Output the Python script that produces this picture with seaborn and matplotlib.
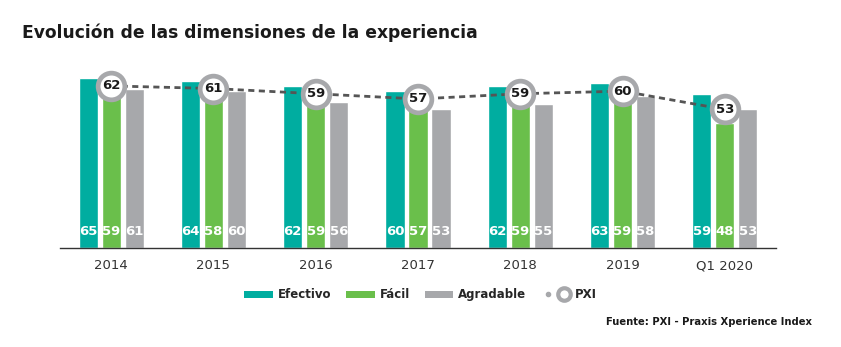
import matplotlib
matplotlib.use("Agg")
import matplotlib.pyplot as plt
from matplotlib.patches import Patch
from matplotlib.lines import Line2D
from matplotlib.legend_handler import HandlerTuple
import seaborn as sns
import pandas as pd

periods = ["2014", "2015", "2016", "2017", "2018", "2019", "Q1 2020"]
efectivo = [65, 64, 62, 60, 62, 63, 59]
facil = [59, 58, 59, 57, 59, 59, 48]
agradable = [61, 60, 56, 53, 55, 58, 53]
pxi = [62, 61, 59, 57, 59, 60, 53]

dimensions = ["Efectivo", "Fácil", "Agradable"]
colors = ["#00ada0", "#6abf4b", "#a7a8ab"]

df = pd.DataFrame({
    "periodo": periods * 3,
    "dimension": [d for d in dimensions for _ in periods],
    "valor": efectivo + facil + agradable,
})

sns.set_theme(style="white")
plt.rcParams["font.family"] = ["DejaVu Sans"]

fig = plt.figure(figsize=(8.41, 3.47), dpi=100)
ax = fig.add_axes([0.0713, 0.2853, 0.8514, 0.5274])

sns.barplot(data=df, x="periodo", y="valor", hue="dimension",
            hue_order=dimensions, palette=colors, width=0.675, gap=0.17,
            saturation=1, ax=ax, legend=False, errorbar=None)

# value labels at the foot of each bar
for container in ax.containers:
    for bar in container:
        h = bar.get_height()
        ax.text(bar.get_x() + bar.get_width() / 2, 6.5, f"{h:.0f}",
                ha="center", va="center", color="white",
                fontsize=9.5, fontweight="bold")

# PXI index: dashed trend with ringed markers
xs = list(range(len(periods)))
ax.plot(xs, pxi, linestyle=(0, (2.2, 1.6)), color="#555555", lw=2, zorder=4)
ax.scatter(xs, pxi, s=370, facecolor="white", edgecolor="#a7a8ab",
           linewidth=3.4, zorder=5)
for x, v in zip(xs, pxi):
    ax.text(x, v, f"{v}", ha="center", va="center", fontsize=9.5,
            fontweight="bold", color="#1a1a1a", zorder=6)

ax.set_xlim(-0.5, 6.5)
ax.set_ylim(0, 70)
ax.set_xlabel("")
ax.set_ylabel("")
ax.set_yticks([])
for s in ["left", "right", "top"]:
    ax.spines[s].set_visible(False)
ax.spines["bottom"].set_color("#333333")
ax.spines["bottom"].set_linewidth(1)
ax.tick_params(axis="x", length=0, pad=8, labelsize=9.5, colors="#333333")

fig.text(0.026, 0.905, "Evolución de las dimensiones de la experiencia",
         fontsize=12.3, fontweight="bold", color="#1a1a1a", va="center")

handles = [Patch(facecolor=c, edgecolor="none") for c in colors]
pxi_handle = (Line2D([], [], marker="o", markersize=3, color="#a7a8ab", linestyle="none"),
              Line2D([], [], marker="o", markersize=9, markerfacecolor="white",
                     markeredgecolor="#a7a8ab", markeredgewidth=3, linestyle="none"))
leg = fig.legend(handles + [pxi_handle], dimensions + ["PXI"],
                 loc="center", bbox_to_anchor=(0.5, 0.15), ncol=4, frameon=False,
                 prop={"weight": "bold", "size": 8.5}, handlelength=2.4,
                 handleheight=0.6, columnspacing=1.3, handletextpad=0.4,
                 handler_map={tuple: HandlerTuple(ndivide=None, pad=0.3)})

fig.text(0.966, 0.072, "Fuente: PXI - Praxis Xperience Index", ha="right",
         va="center", fontsize=7.2, fontweight="bold", color="#1a1a1a")

fig.savefig("out.png", dpi=100)
